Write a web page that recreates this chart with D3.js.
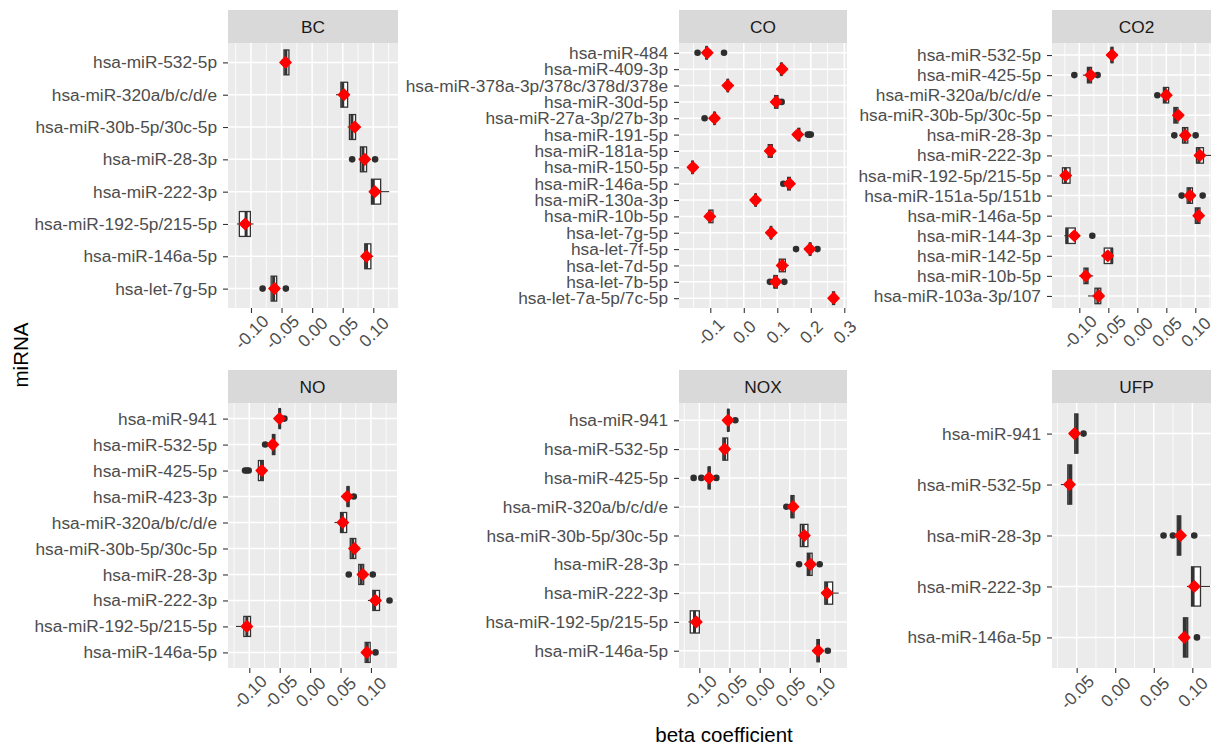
<!DOCTYPE html>
<html><head><meta charset="utf-8">
<script src="https://cdn.jsdelivr.net/npm/d3@7"></script>
<style>body{margin:0;background:#fff}svg{display:block}</style>
</head><body>
<svg id="chart" width="1211" height="745"></svg>
<script>
// ---------- DATA (categories listed top to bottom; boxes = [lowerWhisker, q1, median, q3, upperWhisker]) ----------
const bcCats = ["hsa-miR-532-5p","hsa-miR-320a/b/c/d/e","hsa-miR-30b-5p/30c-5p","hsa-miR-28-3p","hsa-miR-222-3p","hsa-miR-192-5p/215-5p","hsa-miR-146a-5p","hsa-let-7g-5p"];
const bcBoxes = [[-0.046,-0.046,-0.043,-0.038,-0.038],[0.039,0.047,0.050,0.058,0.058],[0.058,0.061,0.065,0.071,0.071],[0.079,0.079,0.083,0.089,0.089],[0.095,0.097,0.100,0.112,0.126],[-0.123,-0.119,-0.108,-0.101,-0.096],[0.080,0.086,0.089,0.096,0.100],[-0.067,-0.067,-0.063,-0.058,-0.058]];
const bcMeans = [-0.0436,0.052,0.0698,0.086,0.1025,-0.1096,0.0889,-0.0616];
const bcOutliers = [[],[],[],[0.0654,0.103],[],[],[],[-0.081,-0.043]];
const bcTicks = [-0.10,-0.05,0.00,0.05,0.10];
const bcTickLabels = ["-0.10","-0.05","0.00","0.05","0.10"];

const coCats = ["hsa-miR-484","hsa-miR-409-3p","hsa-miR-378a-3p/378c/378d/378e","hsa-miR-30d-5p","hsa-miR-27a-3p/27b-3p","hsa-miR-191-5p","hsa-miR-181a-5p","hsa-miR-150-5p","hsa-miR-146a-5p","hsa-miR-130a-3p","hsa-miR-10b-5p","hsa-let-7g-5p","hsa-let-7f-5p","hsa-let-7d-5p","hsa-let-7b-5p","hsa-let-7a-5p/7c-5p"];
const coBoxes = [[-0.114,-0.113,-0.111,-0.109,-0.108],[0.110,0.111,0.112,0.114,0.115],[-0.050,-0.049,-0.048,-0.046,-0.045],[0.090,0.092,0.096,0.102,0.108],[-0.090,-0.089,-0.087,-0.086,-0.085],[0.160,0.162,0.164,0.167,0.168],[0.064,0.073,0.079,0.085,0.094],[-0.156,-0.155,-0.153,-0.151,-0.150],[0.128,0.131,0.135,0.139,0.140],[0.033,0.034,0.035,0.037,0.038],[-0.106,-0.104,-0.101,-0.092,-0.087],[0.079,0.080,0.081,0.083,0.084],[0.195,0.196,0.198,0.200,0.201],[0.101,0.106,0.115,0.124,0.134],[0.085,0.090,0.093,0.100,0.103],[0.263,0.265,0.268,0.271,0.273]];
const coMeans = [-0.109,0.1145,-0.0477,0.0966,-0.0875,0.161,0.0788,-0.152,0.1364,0.035,-0.1015,0.0818,0.197,0.1145,0.0955,0.268];
const coOutliers = [[-0.138,-0.059],[],[],[0.113],[-0.117],[0.191,0.196,0.200],[],[],[0.118],[],[],[],[0.156,0.220],[],[0.078,0.121],[]];
const coTicks = [-0.1,0.0,0.1,0.2,0.3];
const coTickLabels = ["-0.1","0.0","0.1","0.2","0.3"];

const co2Cats = ["hsa-miR-532-5p","hsa-miR-425-5p","hsa-miR-320a/b/c/d/e","hsa-miR-30b-5p/30c-5p","hsa-miR-28-3p","hsa-miR-222-3p","hsa-miR-192-5p/215-5p","hsa-miR-151a-5p/151b","hsa-miR-146a-5p","hsa-miR-144-3p","hsa-miR-142-5p","hsa-miR-10b-5p","hsa-miR-103a-3p/107"];
const co2Boxes = [[-0.046,-0.045,-0.044,-0.042,-0.041],[-0.094,-0.086,-0.083,-0.079,-0.074],[0.045,0.045,0.048,0.054,0.054],[0.063,0.063,0.066,0.070,0.072],[0.078,0.078,0.082,0.087,0.087],[0.098,0.102,0.106,0.114,0.130],[-0.129,-0.129,-0.124,-0.116,-0.116],[0.086,0.086,0.090,0.095,0.095],[0.097,0.100,0.104,0.108,0.108],[-0.126,-0.123,-0.121,-0.107,-0.107],[-0.062,-0.057,-0.044,-0.043,-0.043],[-0.100,-0.092,-0.088,-0.085,-0.076],[-0.085,-0.073,-0.068,-0.063,-0.063]];
const co2Means = [-0.0436,-0.0804,0.050,0.0707,0.0828,0.108,-0.1235,0.0909,0.1058,-0.1086,-0.051,-0.089,-0.0666];
const co2Outliers = [[],[-0.1086,-0.0684],[0.0345],[],[0.0638,0.1006],[],[],[0.0765,0.1127],[],[-0.0776],[],[],[]];
const co2Ticks = [-0.10,-0.05,0.00,0.05,0.10];
const co2TickLabels = ["-0.10","-0.05","0.00","0.05","0.10"];

const noCats = ["hsa-miR-941","hsa-miR-532-5p","hsa-miR-425-5p","hsa-miR-423-3p","hsa-miR-320a/b/c/d/e","hsa-miR-30b-5p/30c-5p","hsa-miR-28-3p","hsa-miR-222-3p","hsa-miR-192-5p/215-5p","hsa-miR-146a-5p"];
const noBoxes = [[-0.052,-0.051,-0.050,-0.049,-0.046],[-0.064,-0.062,-0.060,-0.058,-0.058],[-0.085,-0.085,-0.080,-0.077,-0.077],[0.060,0.061,0.062,0.064,0.066],[0.040,0.050,0.053,0.060,0.060],[0.066,0.066,0.070,0.075,0.075],[0.080,0.080,0.084,0.088,0.088],[0.095,0.103,0.106,0.114,0.114],[-0.122,-0.109,-0.104,-0.098,-0.098],[0.0905,0.0905,0.094,0.0987,0.0987]];
const noMeans = [-0.0505,-0.0614,-0.0796,0.0608,0.0537,0.0729,0.0866,0.1075,-0.104,0.0932];
const noOutliers = [[-0.0423],[-0.074],[-0.107,-0.104,-0.101],[0.0718],[],[],[0.0635,0.103],[0.1305],[],[0.1075]];
const noTicks = [-0.10,-0.05,0.00,0.05,0.10];
const noTickLabels = ["-0.10","-0.05","0.00","0.05","0.10"];

const noxCats = ["hsa-miR-941","hsa-miR-532-5p","hsa-miR-425-5p","hsa-miR-320a/b/c/d/e","hsa-miR-30b-5p/30c-5p","hsa-miR-28-3p","hsa-miR-222-3p","hsa-miR-192-5p/215-5p","hsa-miR-146a-5p"];
const noxBoxes = [[-0.054,-0.053,-0.052,-0.051,-0.049],[-0.061,-0.061,-0.058,-0.053,-0.053],[-0.086,-0.085,-0.084,-0.082,-0.080],[0.050,0.052,0.054,0.057,0.058],[0.0675,0.0675,0.072,0.080,0.080],[0.079,0.079,0.082,0.087,0.087],[0.108,0.108,0.111,0.121,0.131],[-0.118,-0.115,-0.108,-0.100,-0.100],[0.088,0.095,0.097,0.099,0.103]];
const noxMeans = [-0.0525,-0.058,-0.084,0.0554,0.0742,0.0841,0.1117,-0.105,0.0968];
const noxOutliers = [[-0.0403],[],[-0.1094,-0.0967,-0.0718],[0.0443],[],[0.0653,0.0995],[],[],[0.113]];
const noxTicks = [-0.10,-0.05,0.00,0.05,0.10];
const noxTickLabels = ["-0.10","-0.05","0.00","0.05","0.10"];

const ufpCats = ["hsa-miR-941","hsa-miR-532-5p","hsa-miR-28-3p","hsa-miR-222-3p","hsa-miR-146a-5p"];
const ufpBoxes = [[-0.053,-0.0525,-0.050,-0.0485,-0.0485],[-0.0705,-0.0615,-0.059,-0.0565,-0.0565],[0.080,0.0805,0.083,0.085,0.085],[0.093,0.099,0.101,0.1106,0.123],[0.082,0.0885,0.091,0.094,0.094]];
const ufpMeans = [-0.0528,-0.0593,0.0847,0.1025,0.0895];
const ufpOutliers = [[-0.0411],[],[0.0627,0.0748,0.1025],[],[0.106]];
const ufpTicks = [-0.05,0.00,0.05,0.10];
const ufpTickLabels = ["-0.05","0.00","0.05","0.10"];

// ---------- LAYOUT ----------
const panels = [
  {name:"BC",  cats:bcCats,  boxes:bcBoxes,  means:bcMeans,  outs:bcOutliers,  ticks:bcTicks,  labels:bcTickLabels,  minorStep:0.025, x0:228, x1:398, y0:10,  domain:[-0.1376,0.1404]},
  {name:"CO",  cats:coCats,  boxes:coBoxes,  means:coMeans,  outs:coOutliers,  ticks:coTicks,  labels:coTickLabels,  minorStep:0.05,  x0:679, x1:847, y0:10,  domain:[-0.1934,0.3081]},
  {name:"CO2", cats:co2Cats, boxes:co2Boxes, means:co2Means, outs:co2Outliers, ticks:co2Ticks, labels:co2TickLabels, minorStep:0.025, x0:1052,x1:1221,y0:10,  domain:[-0.1471,0.1443]},
  {name:"NO",  cats:noCats,  boxes:noBoxes,  means:noMeans,  outs:noOutliers,  ticks:noTicks,  labels:noTickLabels,  minorStep:0.025, x0:228, x1:397, y0:370, domain:[-0.1350,0.1428]},
  {name:"NOX", cats:noxCats, boxes:noxBoxes, means:noxMeans, outs:noxOutliers, ticks:noxTicks, labels:noxTickLabels, minorStep:0.025, x0:679, x1:847, y0:370, domain:[-0.1337,0.1448]},
  {name:"UFP", cats:ufpCats, boxes:ufpBoxes, means:ufpMeans, outs:ufpOutliers, ticks:ufpTicks, labels:ufpTickLabels, minorStep:0.025, x0:1052,x1:1221,y0:370, domain:[-0.0820,0.1372]}
];
const STRIP_H = 33, PANEL_H = 265;
const FONT = "'Liberation Sans', Arial, Helvetica, sans-serif";
const TICK_FS = 17.3;

const svg = d3.select("#chart");

panels.forEach((p, pi) => {
  const top = p.y0 + STRIP_H, bottom = top + PANEL_H;
  const x = d3.scaleLinear().domain(p.domain).range([p.x0, p.x1]);
  const y = d3.scalePoint().domain(p.cats).range([top, bottom]).padding(0.6);
  const step = y.step();
  const g = svg.append("g");

  // strip
  g.append("rect").attr("x", p.x0).attr("y", p.y0).attr("width", p.x1 - p.x0).attr("height", STRIP_H).attr("fill", "#D9D9D9");
  g.append("text").attr("x", (p.x0 + p.x1) / 2).attr("y", p.y0 + STRIP_H / 2).attr("dy", "0.36em")
    .attr("text-anchor", "middle").attr("font-family", FONT).attr("font-size", 17.3).attr("fill", "#1A1A1A").text(p.name);

  // panel background
  g.append("rect").attr("x", p.x0).attr("y", top).attr("width", p.x1 - p.x0).attr("height", PANEL_H).attr("fill", "#EBEBEB");

  const clipId = "clip" + pi;
  svg.append("clipPath").attr("id", clipId).append("rect")
    .attr("x", p.x0).attr("y", top).attr("width", p.x1 - p.x0).attr("height", PANEL_H);
  const pg = g.append("g").attr("clip-path", `url(#${clipId})`);

  // minor grid
  const minors = [];
  const s0 = Math.ceil(p.domain[0] / p.minorStep), s1 = Math.floor(p.domain[1] / p.minorStep);
  for (let k = s0; k <= s1; k++) {
    const v = k * p.minorStep;
    if (!p.ticks.some(t => Math.abs(t - v) < 1e-9)) minors.push(v);
  }
  pg.selectAll(".minor").data(minors).join("line")
    .attr("x1", d => x(d)).attr("x2", d => x(d)).attr("y1", top).attr("y2", bottom)
    .attr("stroke", "#fff").attr("stroke-width", 0.8);
  // major grid
  pg.selectAll(".majx").data(p.ticks).join("line")
    .attr("x1", d => x(d)).attr("x2", d => x(d)).attr("y1", top).attr("y2", bottom)
    .attr("stroke", "#fff").attr("stroke-width", 1.5);
  pg.selectAll(".majy").data(p.cats).join("line")
    .attr("x1", p.x0).attr("x2", p.x1).attr("y1", d => y(d)).attr("y2", d => y(d))
    .attr("stroke", "#fff").attr("stroke-width", 1.5);

  // boxplots
  const bw = step * 0.77;
  const bx = pg.selectAll(".box").data(p.cats.map((c, i) => ({c, b: p.boxes[i]}))).join("g");
  bx.append("line").attr("x1", d => x(d.b[0])).attr("x2", d => x(d.b[1])).attr("y1", d => y(d.c)).attr("y2", d => y(d.c))
    .attr("stroke", "#333").attr("stroke-width", 1.1);
  bx.append("line").attr("x1", d => x(d.b[3])).attr("x2", d => x(d.b[4])).attr("y1", d => y(d.c)).attr("y2", d => y(d.c))
    .attr("stroke", "#333").attr("stroke-width", 1.1);
  bx.append("rect").attr("x", d => x(d.b[1])).attr("width", d => Math.max(0.5, x(d.b[3]) - x(d.b[1])))
    .attr("y", d => y(d.c) - bw / 2).attr("height", bw)
    .attr("fill", "#fff").attr("stroke", "#333").attr("stroke-width", 1.3);
  bx.append("line").attr("x1", d => x(d.b[2])).attr("x2", d => x(d.b[2]))
    .attr("y1", d => y(d.c) - bw / 2).attr("y2", d => y(d.c) + bw / 2)
    .attr("stroke", "#333").attr("stroke-width", 3);

  // outliers
  const outPts = [];
  p.outs.forEach((arr, i) => arr.forEach(v => outPts.push({c: p.cats[i], v})));
  pg.selectAll(".out").data(outPts).join("circle")
    .attr("cx", d => x(d.v)).attr("cy", d => y(d.c)).attr("r", 3.3).attr("fill", "#2E2E2E");

  // means (red rounded diamonds)
  const r = 5.6;
  const mg = pg.selectAll(".mean").data(p.cats.map((c, i) => ({c, v: p.means[i]}))).join("g")
    .attr("transform", d => `translate(${x(d.v)},${y(d.c)})`);
  mg.append("path").attr("d", `M0,${-r}L${r},0L0,${r}L${-r},0Z`)
    .attr("fill", "#FF0000").attr("stroke", "#FF0000").attr("stroke-width", 1.4).attr("stroke-linejoin", "round");
  mg.append("circle").attr("r", 4.4).attr("fill", "#FF0000");

  // x axis
  const xa = g.append("g").attr("transform", `translate(0,${bottom})`)
    .call(d3.axisBottom(x).tickValues(p.ticks).tickFormat((d, i) => p.labels[i]).tickSize(5).tickSizeOuter(0));
  xa.select(".domain").remove();
  xa.selectAll(".tick line").attr("stroke", "#333").attr("stroke-width", 1.1);
  xa.selectAll(".tick text").attr("y", 0).attr("dy", "0.35em").attr("text-anchor", "middle")
    .attr("transform", "translate(0,24) rotate(-45)")
    .attr("font-family", FONT).attr("font-size", TICK_FS).attr("fill", "#4D4D4D");

  // y axis
  const ya = g.append("g").attr("transform", `translate(${p.x0},0)`)
    .call(d3.axisLeft(y).tickSize(5).tickPadding(6).tickSizeOuter(0));
  ya.select(".domain").remove();
  ya.selectAll(".tick line").attr("stroke", "#333").attr("stroke-width", 1.1);
  ya.selectAll(".tick text").attr("font-family", FONT).attr("font-size", TICK_FS).attr("fill", "#4D4D4D");
});

// axis titles
svg.append("text").attr("transform", "translate(21,355) rotate(-90)").attr("dy", "0.35em")
  .attr("text-anchor", "middle").attr("font-family", FONT).attr("font-size", 20.5).attr("fill", "#000").text("miRNA");
svg.append("text").attr("x", 724).attr("y", 735).attr("dy", "0.35em")
  .attr("text-anchor", "middle").attr("font-family", FONT).attr("font-size", 20.5).attr("fill", "#000").text("beta coefficient");
</script>
</body></html>
